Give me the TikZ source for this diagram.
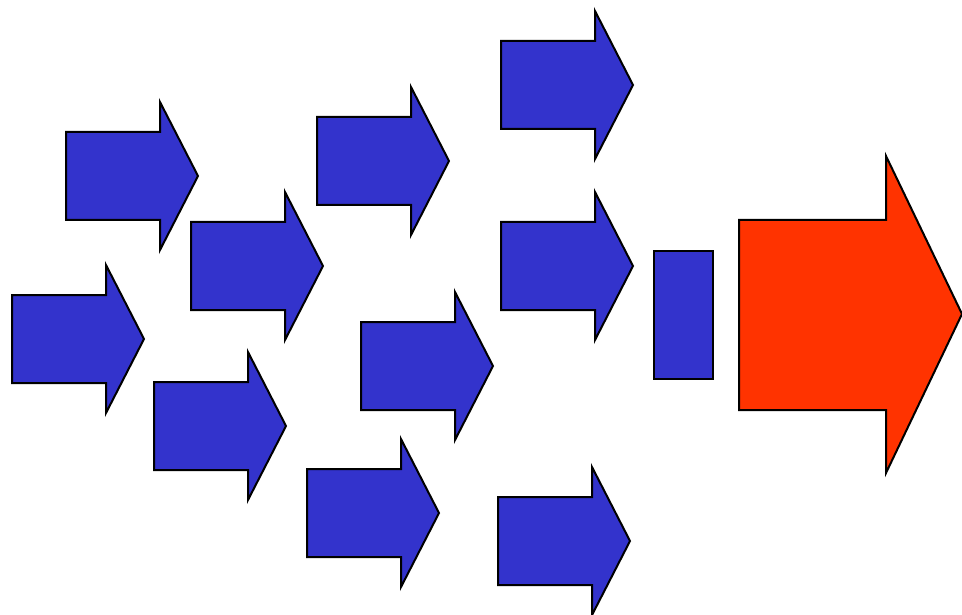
\documentclass[tikz,border=0pt]{standalone}
\definecolor{arrowblue}{RGB}{51,51,204}
\definecolor{arrowred}{RGB}{255,51,0}
\tikzset{
  x=1pt,y=-1pt,
  shapeline/.style={draw=black,line width=2pt,line join=miter},
  barrow/.pic={
    \path[shapeline,fill=arrowblue] (0,0) -- (94,0) -- (94,-30) -- (132,44) -- (94,118) -- (94,88) -- (0,88) -- cycle;
  }
}
\begin{document}
\begin{tikzpicture}
\useasboundingbox (0,0) rectangle (962,615);
\foreach \px/\py in {66/132,12/295,191/222,154/382,317/117,361/322,307/469,501/41,501/222,498/497}{
  \pic at (\px,\py) {barrow};
}
\path[shapeline,fill=arrowblue] (654,251) rectangle (713,379);
\path[shapeline,fill=arrowred] (739,220) -- (886,220) -- (886,156) -- (962,314) -- (886,473) -- (886,410) -- (739,410) -- cycle;
\end{tikzpicture}
\end{document}
